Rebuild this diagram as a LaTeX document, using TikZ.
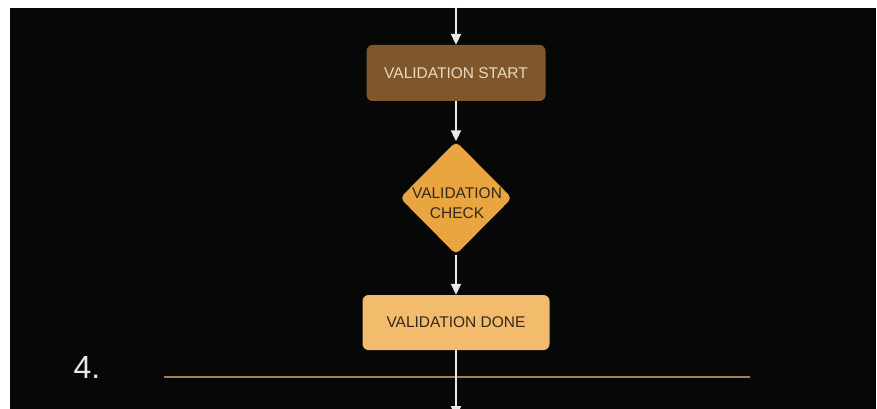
\documentclass[tikz,border=0pt]{standalone}
\usepackage{fontspec}
\setmainfont{Liberation Sans}
\usetikzlibrary{shapes.geometric,arrows.meta}
\definecolor{bgblack}{HTML}{070707}
\definecolor{startfill}{HTML}{80572A}
\definecolor{starttext}{HTML}{EAD9BF}
\definecolor{checkfill}{HTML}{E9A540}
\definecolor{darktext}{HTML}{35281A}
\definecolor{donefill}{HTML}{F2BC6C}
\definecolor{rulecol}{HTML}{A57F4E}
\definecolor{flowcol}{HTML}{E8E8E8}
\begin{document}
\begin{tikzpicture}[x=1pt,y=-1pt,
  boxfont/.style={font=\fontsize{15.5}{20}\selectfont},
  startbox/.style={boxfont, fill=startfill, text=starttext, rounded corners=6pt,
    minimum width=179pt, minimum height=56pt, inner sep=0pt},
  donebox/.style={boxfont, fill=donefill, text=darktext, rounded corners=6pt,
    minimum width=187pt, minimum height=55pt, inner sep=0pt},
  checkdia/.style={diamond, fill=checkfill, rounded corners=5pt,
    minimum width=112pt, minimum height=113pt, inner sep=0pt},
  checktext/.style={boxfont, text=darktext, align=center, inner sep=0pt},
  flow/.style={draw=flowcol, line width=2pt, -{Triangle[width=10pt,length=11pt]}},
  rulestyle/.style={draw=rulecol, line width=2pt},
  numlabel/.style={font=\fontsize{32}{36}\selectfont, text=flowcol, inner sep=0pt}
]
\useasboundingbox (0,0) rectangle (877,409);
\fill[white] (0,0) rectangle (877,409);
\fill[bgblack] (10,8) rectangle (876,409);
\begin{scope}
\clip (10,8) rectangle (876,409);
\node[startbox] (start) at (456,73) {VALIDATION START};
\node[checkdia] (check) at (456,198) {};
\node[checktext] (checklabel) at (457,203.5) {VALIDATION\\CHECK};
\node[donebox] (done) at (456,322.5) {VALIDATION DONE};
\node[numlabel] (num) at (87,367) {4.};
\coordinate (in) at (456,-5);
\coordinate (out) at (456,417);
\coordinate (ruleL) at (164,377);
\coordinate (ruleR) at (750,377);
\draw[rulestyle] (ruleL) -- (ruleR);
\draw[flow] (in) -- (start);
\draw[flow] (start) -- (check);
\draw[flow] (check) -- (done);
\draw[flow] (done) -- (out);
\end{scope}
\end{tikzpicture}
\end{document}
